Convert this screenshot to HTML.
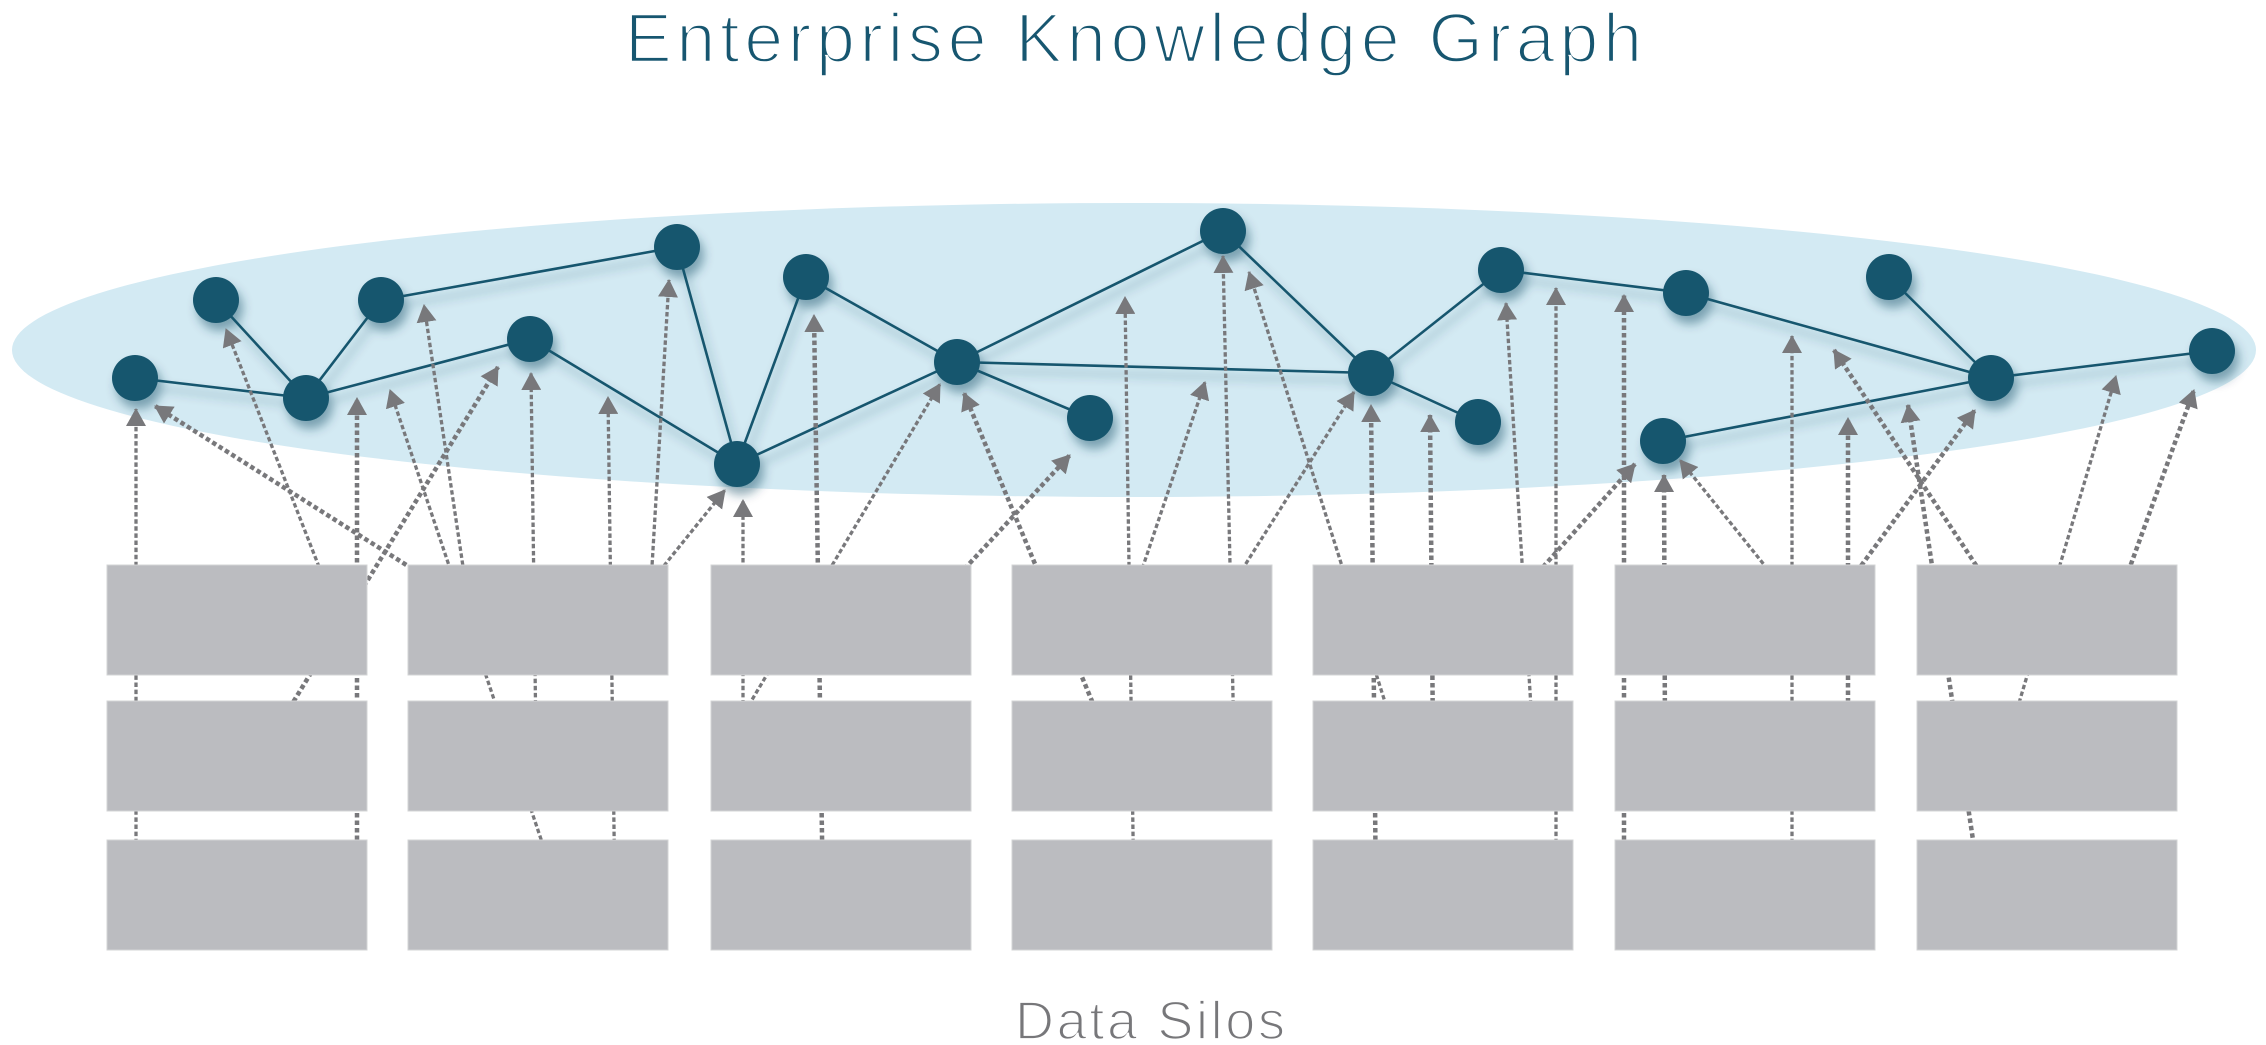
<!DOCTYPE html>
<html>
<head>
<meta charset="utf-8">
<style>
html,body{margin:0;padding:0;background:#fff;}
body{width:2266px;height:1045px;overflow:hidden;}
svg{display:block;}
</style>
</head>
<body>
<svg width="2266" height="1045" viewBox="0 0 2266 1045" xmlns="http://www.w3.org/2000/svg">
<defs>
  <marker id="ah" markerUnits="userSpaceOnUse" markerWidth="18" markerHeight="20" viewBox="0 0 18 20" refX="17" refY="10" orient="auto">
    <path d="M0,0 L18,10 L0,20 z" fill="#78787b"/>
  </marker>
  <filter id="sh" x="-20%" y="-20%" width="140%" height="160%">
    <feDropShadow dx="4" dy="8" stdDeviation="5" flood-color="#0b3a55" flood-opacity="0.42"/>
  </filter>
</defs>

<!-- Title -->
<text x="625" y="62" font-family="'Liberation Sans', sans-serif" font-size="70" fill="#175670" stroke="#ffffff" stroke-width="2.4" textLength="1017" lengthAdjust="spacing">Enterprise Knowledge Graph</text>

<!-- Ellipse -->
<ellipse cx="1134" cy="350" rx="1122" ry="147" fill="#d3eaf3"/>

<!-- Graph edges and nodes -->
<g filter="url(#sh)">
  <g stroke="#17566e" stroke-width="2.6" fill="none">
    <line x1="135" y1="378" x2="306" y2="398"/>
    <line x1="216" y1="300" x2="306" y2="398"/>
    <line x1="306" y1="398" x2="381" y2="300"/>
    <line x1="306" y1="398" x2="530" y2="339"/>
    <line x1="381" y1="300" x2="677" y2="247"/>
    <line x1="677" y1="247" x2="737" y2="464"/>
    <line x1="530" y1="339" x2="737" y2="464"/>
    <line x1="806" y1="277" x2="737" y2="464"/>
    <line x1="806" y1="277" x2="957" y2="362"/>
    <line x1="737" y1="464" x2="957" y2="362"/>
    <line x1="957" y1="362" x2="1090" y2="418"/>
    <line x1="957" y1="362" x2="1223" y2="231"/>
    <line x1="957" y1="362" x2="1371" y2="373"/>
    <line x1="1223" y1="231" x2="1371" y2="373"/>
    <line x1="1371" y1="373" x2="1501" y2="270"/>
    <line x1="1371" y1="373" x2="1478" y2="422"/>
    <line x1="1501" y1="270" x2="1686" y2="293"/>
    <line x1="1686" y1="293" x2="1991" y2="378"/>
    <line x1="1889" y1="277" x2="1991" y2="378"/>
    <line x1="1663" y1="441" x2="1991" y2="378"/>
    <line x1="1991" y1="378" x2="2212" y2="351"/>
  </g>
  <g fill="#17566e">
    <circle cx="135" cy="378" r="23"/>
    <circle cx="216" cy="300" r="23"/>
    <circle cx="306" cy="398" r="23"/>
    <circle cx="381" cy="300" r="23"/>
    <circle cx="530" cy="339" r="23"/>
    <circle cx="677" cy="247" r="23"/>
    <circle cx="806" cy="277" r="23"/>
    <circle cx="737" cy="464" r="23"/>
    <circle cx="957" cy="362" r="23"/>
    <circle cx="1090" cy="418" r="23"/>
    <circle cx="1223" cy="231" r="23"/>
    <circle cx="1371" cy="373" r="23"/>
    <circle cx="1501" cy="270" r="23"/>
    <circle cx="1478" cy="422" r="23"/>
    <circle cx="1686" cy="293" r="23"/>
    <circle cx="1663" cy="441" r="23"/>
    <circle cx="1889" cy="277" r="23"/>
    <circle cx="1991" cy="378" r="23"/>
    <circle cx="2212" cy="351" r="23"/>
  </g>
</g>

<!-- Dashed arrows: thin -->
<g stroke="#78787b" stroke-width="3.3" stroke-dasharray="4.5 2.6" fill="none" marker-end="url(#ah)">
  <line x1="136" y1="900" x2="136" y2="409"/>
  <line x1="332" y1="600" x2="226" y2="329"/>
  <line x1="548" y1="860" x2="390" y2="390"/>
  <line x1="468" y1="600" x2="424" y2="305"/>
  <line x1="536" y1="740" x2="531" y2="373"/>
  <line x1="615" y1="900" x2="608" y2="397"/>
  <line x1="650" y1="600" x2="669" y2="280"/>
  <line x1="646" y1="588" x2="725" y2="490"/>
  <line x1="743" y1="740" x2="743" y2="500"/>
  <line x1="734" y1="730" x2="940" y2="384"/>
  <line x1="1134" y1="900" x2="1125" y2="297"/>
  <line x1="1131" y1="602" x2="1205" y2="382"/>
  <line x1="1234" y1="740" x2="1223" y2="256"/>
  <line x1="1397" y1="740" x2="1249" y2="272"/>
  <line x1="1223" y1="600" x2="1354" y2="392"/>
  <line x1="1533" y1="740" x2="1506" y2="303"/>
  <line x1="1556" y1="900" x2="1556" y2="288"/>
  <line x1="1790" y1="597" x2="1680" y2="460"/>
  <line x1="1792" y1="900" x2="1792" y2="336"/>
  <line x1="2011" y1="730" x2="2116" y2="376"/>
</g>

<!-- Dashed arrows: thick -->
<g stroke="#78787b" stroke-width="4.5" stroke-dasharray="4.5 3" fill="none" marker-end="url(#ah)">
  <line x1="457" y1="597" x2="155" y2="406"/>
  <line x1="270" y1="740" x2="498" y2="367"/>
  <line x1="357" y1="900" x2="357" y2="398"/>
  <line x1="823" y1="900" x2="814" y2="315"/>
  <line x1="944" y1="591" x2="1070" y2="455"/>
  <line x1="1104" y1="730" x2="964" y2="393"/>
  <line x1="1376" y1="900" x2="1371" y2="405"/>
  <line x1="1433" y1="740" x2="1430" y2="415"/>
  <line x1="1518" y1="595" x2="1635" y2="464"/>
  <line x1="1624" y1="900" x2="1624" y2="295"/>
  <line x1="1665" y1="740" x2="1664" y2="475"/>
  <line x1="1848" y1="740" x2="1848" y2="418"/>
  <line x1="1839" y1="596" x2="1975" y2="410"/>
  <line x1="1976" y1="860" x2="1908" y2="405"/>
  <line x1="1997" y1="597" x2="1834" y2="350"/>
  <line x1="2118" y1="600" x2="2194" y2="390"/>
</g>

<!-- Data silo boxes -->
<g fill="#bbbcc0" stroke="#d3d4d6" stroke-width="1">
  <rect x="107" y="565" width="260" height="110"/>
  <rect x="408" y="565" width="260" height="110"/>
  <rect x="711" y="565" width="260" height="110"/>
  <rect x="1012" y="565" width="260" height="110"/>
  <rect x="1313" y="565" width="260" height="110"/>
  <rect x="1615" y="565" width="260" height="110"/>
  <rect x="1917" y="565" width="260" height="110"/>

  <rect x="107" y="701" width="260" height="110"/>
  <rect x="408" y="701" width="260" height="110"/>
  <rect x="711" y="701" width="260" height="110"/>
  <rect x="1012" y="701" width="260" height="110"/>
  <rect x="1313" y="701" width="260" height="110"/>
  <rect x="1615" y="701" width="260" height="110"/>
  <rect x="1917" y="701" width="260" height="110"/>

  <rect x="107" y="840" width="260" height="110"/>
  <rect x="408" y="840" width="260" height="110"/>
  <rect x="711" y="840" width="260" height="110"/>
  <rect x="1012" y="840" width="260" height="110"/>
  <rect x="1313" y="840" width="260" height="110"/>
  <rect x="1615" y="840" width="260" height="110"/>
  <rect x="1917" y="840" width="260" height="110"/>
</g>

<!-- Footer label -->
<text x="1015" y="1039" font-family="'Liberation Sans', sans-serif" font-size="54" fill="#77777a" stroke="#ffffff" stroke-width="1.8" textLength="270" lengthAdjust="spacing">Data Silos</text>
</svg>
</body>
</html>
